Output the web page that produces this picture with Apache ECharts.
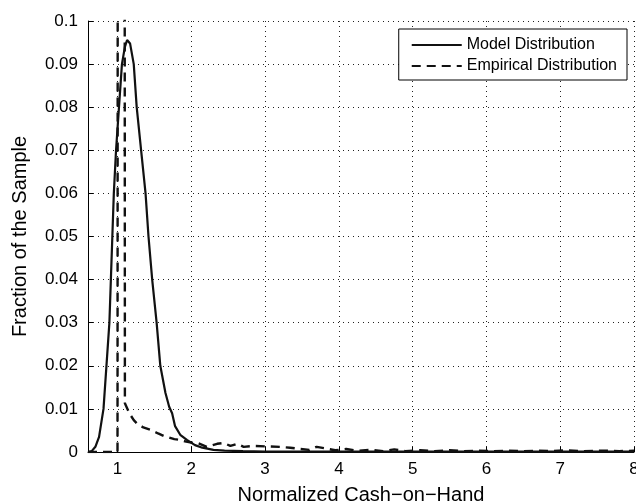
<!DOCTYPE html>
<html lang="en">

<head>
    <meta charset="UTF-8">
    <title>Cash-on-Hand Distribution</title>
    <script src="https://cdn.jsdelivr.net/npm/echarts@6.0.0/dist/echarts.min.js"></script>
</head>
<style>
    body {
        margin: 0;
        background: #fff;
    }
</style>

<body>
    <div id="chart" style="width: 636px;height: 503px;"></div>
    <script>
        // model distribution (solid)
        var modelX = [0.60, 0.65, 0.70, 0.75, 0.81, 0.85, 0.89, 0.91, 0.93, 0.95, 0.98, 1.02, 1.06, 1.10, 1.13, 1.17,
            1.22, 1.26, 1.32, 1.38, 1.42, 1.47, 1.53, 1.58, 1.65, 1.70, 1.74, 1.78, 1.85, 1.94, 2.05, 2.15, 2.30,
            2.45, 2.70, 3.00, 3.50, 4.00, 5.00, 6.00, 7.00, 8.00];
        var modelY = [0, 0.0002, 0.0012, 0.0035, 0.010, 0.020, 0.030, 0.040, 0.050, 0.060, 0.070, 0.080, 0.090, 0.094, 0.0956, 0.0948,
            0.090, 0.080, 0.070, 0.060, 0.050, 0.040, 0.030, 0.020, 0.0137, 0.0105, 0.009, 0.006, 0.004, 0.0028, 0.0016, 0.001, 0.0005,
            0.0003, 0.0002, 0.0001, 0.0001, 0.0001, 0.0001, 0.0001, 0.0001, 0.0001];

        // empirical distribution (dashed), spike at 1 runs off the top
        var empX = [0.60, 1.00, 1.05, 1.10, 1.16, 1.22, 1.27, 1.35, 1.45, 1.55, 1.63, 1.69, 1.77, 1.85, 1.93, 2.00, 2.10,
            2.21, 2.35, 2.44, 2.53, 2.62, 2.71, 2.84, 3.02, 3.20, 3.34, 3.47, 3.60, 3.70, 3.83, 3.95, 4.10, 4.25, 4.45,
            4.60, 4.75, 4.90, 5.10, 5.30, 5.50, 5.70, 5.90, 6.10, 6.30, 6.50, 6.70, 6.90, 7.10, 7.30, 7.60, 7.80, 8.00];
        var empY = [0, 0, 2.0, 0.0113, 0.009, 0.0074, 0.0065, 0.0057, 0.0051, 0.0043, 0.0037, 0.0034, 0.003, 0.0028, 0.0024, 0.0022, 0.002,
            0.0012, 0.0019, 0.0021, 0.0014, 0.0019, 0.0012, 0.0014, 0.0013, 0.0012, 0.001, 0.0007, 0.0005, 0.0012, 0.0008, 0.0004, 0.0007, 0.0003, 0.0005,
            0.0002, 0.0006, 0.0002, 0.0004, 0.0002, 0.0004, 0.0002, 0.0003, 0.0002, 0.0003, 0.0002, 0.0003, 0.0002, 0.0004, 0.0002, 0.0003, 0.0002, 0.0003];

        var xTicks = [1, 2, 3, 4, 5, 6, 7, 8];
        var seriesNames = ['Model Distribution', 'Empirical Distribution'];

        function pairs(xs, ys) {
            return xs.map(function (x, i) { return [x, ys[i]]; });
        }

        var font = 'Liberation Sans, Arial, Helvetica, sans-serif';
        var chart = echarts.init(document.getElementById('chart'));
        var option = {
            animation: false,
            textStyle: { fontFamily: font, color: '#000' },
            grid: { left: 88, right: 2, top: 21, bottom: 51, containLabel: false, outerBoundsMode: 'none' },
            legend: {
                orient: 'vertical',
                right: 9,
                top: 29,
                data: seriesNames,
                itemWidth: 50,
                itemHeight: 14,
                itemGap: 5,
                padding: [8, 10, 6, 12],
                borderColor: '#000',
                borderWidth: 1,
                backgroundColor: '#fff',
                itemStyle: { opacity: 0 },
                textStyle: { fontFamily: font, fontSize: 16, color: '#000' }
            },
            xAxis: {
                type: 'value',
                min: 0.6,
                max: 8,
                name: 'Normalized Cash\u2212on\u2212Hand',
                nameLocation: 'middle',
                nameGap: 33,
                nameTextStyle: { fontFamily: font, fontSize: 20, color: '#000' },
                axisLine: { show: true, onZero: false, lineStyle: { color: '#000', width: 1 } },
                axisTick: { show: true, inside: true, length: 5, customValues: xTicks, lineStyle: { color: '#000' } },
                axisLabel: { customValues: xTicks, fontFamily: font, fontSize: 17, color: '#000', margin: 9 },
                splitLine: { show: true, lineStyle: { color: '#222', type: [1, 4], width: 1 } }
            },
            yAxis: {
                type: 'value',
                min: 0,
                max: 0.1,
                interval: 0.01,
                name: 'Fraction of the Sample',
                nameLocation: 'middle',
                nameGap: 58,
                nameTextStyle: { fontFamily: font, fontSize: 20, color: '#000' },
                axisLine: { show: true, lineStyle: { color: '#000', width: 1 } },
                axisTick: { show: true, inside: true, length: 5, lineStyle: { color: '#000' } },
                axisLabel: { fontFamily: font, fontSize: 17, color: '#000', margin: 10 },
                splitLine: { show: true, lineStyle: { color: '#222', type: [1, 4], width: 1 } }
            },
            series: [
                {
                    name: seriesNames[0],
                    type: 'line',
                    symbol: 'none',
                    clip: true,
                    data: pairs(modelX, modelY),
                    lineStyle: { color: '#111', width: 2.2, type: 'solid' },
                    itemStyle: { color: '#111' }
                },
                {
                    name: seriesNames[1],
                    type: 'line',
                    symbol: 'none',
                    clip: true,
                    data: pairs(empX, empY),
                    lineStyle: { color: '#111', width: 2.4, type: [9, 6] },
                    itemStyle: { color: '#111' }
                }
            ]
        };
        chart.setOption(option);
    </script>
</body>

</html>
